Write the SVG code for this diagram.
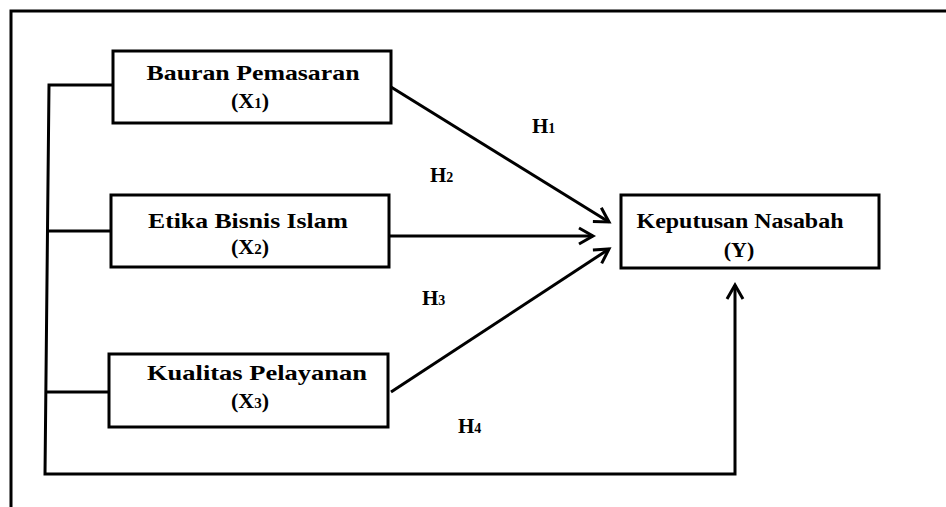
<svg xmlns="http://www.w3.org/2000/svg" width="946" height="507" viewBox="0 0 946 507">
<style>
.box{fill:#fff;stroke:#000;stroke-width:3}
.ln{fill:none;stroke:#000;stroke-width:3}
.t{font-family:"Liberation Serif","Times New Roman",serif;font-weight:bold;font-size:22px;fill:#000}
.h{font-family:"Liberation Serif","Times New Roman",serif;font-weight:bold;font-size:21px;fill:#000}
</style>
<defs>
<marker id="arr" refX="0" refY="0" markerWidth="1" markerHeight="1" markerUnits="userSpaceOnUse" orient="auto" overflow="visible">
<path d="M-14,-8 L0,0 L-14,8" fill="none" stroke="#000" stroke-width="3"/>
</marker>
</defs>
<path class="ln" d="M11,507 V11 H946"/>
<g id="connectors">
<path class="ln" d="M113,85 H49 L45,474 H735 V285" marker-end="url(#arr)"/>
<path class="ln" d="M111,231 H48"/>
<path class="ln" d="M109,392 H46"/>
<path class="ln" d="M391,87 L609,222" marker-end="url(#arr)"/>
<path class="ln" d="M389,236 H593" marker-end="url(#arr)"/>
<path class="ln" d="M391,392 L609,249" marker-end="url(#arr)"/>
</g>
<g id="x1">
<rect class="box" x="113" y="51" width="278" height="72"/>
<text class="t" x="253" y="80" text-anchor="middle" textLength="213" lengthAdjust="spacingAndGlyphs">Bauran Pemasaran</text>
<text class="t" x="250" y="108" text-anchor="middle">(X<tspan font-size="15">1</tspan>)</text>
</g>
<g id="x2">
<rect class="box" x="111" y="195" width="278" height="72"/>
<text class="t" x="248" y="228" text-anchor="middle" textLength="200" lengthAdjust="spacingAndGlyphs">Etika Bisnis Islam</text>
<text class="t" x="250" y="254" text-anchor="middle">(X<tspan font-size="15">2</tspan>)</text>
</g>
<g id="x3">
<rect class="box" x="109" y="354" width="279" height="73"/>
<text class="t" x="257" y="380" text-anchor="middle" textLength="220" lengthAdjust="spacingAndGlyphs">Kualitas Pelayanan</text>
<text class="t" x="250" y="408" text-anchor="middle">(X<tspan font-size="15">3</tspan>)</text>
</g>
<g id="y">
<rect class="box" x="621" y="195" width="258" height="73"/>
<text class="t" x="740" y="228" text-anchor="middle" textLength="207" lengthAdjust="spacingAndGlyphs">Keputusan Nasabah</text>
<text class="t" x="739" y="257" text-anchor="middle">(Y)</text>
</g>
<g id="labels">
<text class="h" x="532" y="133">H<tspan font-size="14">1</tspan></text>
<text class="h" x="430" y="182">H<tspan font-size="14">2</tspan></text>
<text class="h" x="422" y="305">H<tspan font-size="14">3</tspan></text>
<text class="h" x="458" y="433">H<tspan font-size="14">4</tspan></text>
</g>
</svg>
